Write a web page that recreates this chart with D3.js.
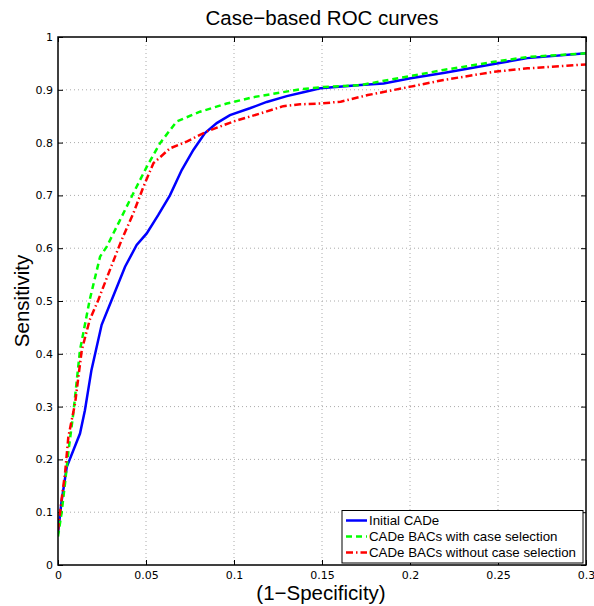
<!DOCTYPE html>
<html><head><meta charset="utf-8">
<script src="https://cdn.jsdelivr.net/npm/d3@7"></script>
<style>body{margin:0;background:#fff;font-family:"Liberation Sans",Arial,sans-serif}</style>
</head><body><svg id="c" width="594" height="606"></svg>
<script>
const xTicks=[0,0.05,0.1,0.15,0.2,0.25,0.3];
const yTicks=[0,0.1,0.2,0.3,0.4,0.5,0.6,0.7,0.8,0.9,1];
const seriesNames=["Initial CADe","CADe BACs with case selection","CADe BACs without case selection"];
const initialX=[0,0.002,0.005,0.0125,0.0153,0.019,0.0248,0.0305,0.0381,0.0447,0.0504,0.057,0.0636,0.0703,0.0769,0.0835,0.0902,0.0977,0.109,0.1186,0.13,0.14,0.149,0.172,0.185,0.2004,0.219,0.2477,0.2667,0.3];
const initialY=[0.06,0.12,0.186,0.249,0.293,0.369,0.455,0.502,0.565,0.606,0.628,0.663,0.70,0.748,0.786,0.818,0.837,0.852,0.865,0.877,0.888,0.896,0.903,0.909,0.912,0.922,0.932,0.949,0.960,0.969];
const withX=[0,0.002,0.004,0.0059,0.0087,0.0125,0.018,0.0239,0.0277,0.0343,0.0428,0.0504,0.058,0.0674,0.0807,0.0959,0.111,0.1375,0.15,0.172,0.2,0.219,0.2477,0.2667,0.3];
const withY=[0.054,0.098,0.155,0.215,0.287,0.407,0.502,0.584,0.603,0.647,0.704,0.754,0.799,0.840,0.8585,0.874,0.886,0.901,0.905,0.909,0.926,0.9375,0.953,0.962,0.969];
const withoutX=[0,0.002,0.004,0.0059,0.0097,0.0135,0.018,0.0229,0.0295,0.0362,0.0428,0.0485,0.0542,0.0636,0.0731,0.0845,0.0997,0.1148,0.128,0.1375,0.149,0.1606,0.176,0.2004,0.219,0.2477,0.2667,0.3];
const withoutY=[0.066,0.123,0.174,0.243,0.306,0.407,0.464,0.502,0.559,0.616,0.666,0.716,0.761,0.789,0.802,0.821,0.840,0.855,0.869,0.8725,0.874,0.8775,0.890,0.906,0.9186,0.934,0.9406,0.948];

const L=58,R=586,T=37,B=565;
const svg=d3.select("#c");
const x=d3.scaleLinear().domain([0,0.3]).range([L,R]);
const y=d3.scaleLinear().domain([0,1]).range([B,T]);

// grid
const g=svg.append("g");
g.selectAll(".vg").data(xTicks.slice(1,-1)).enter().append("line")
 .attr("x1",d=>x(d)).attr("x2",d=>x(d)).attr("y1",T).attr("y2",B)
 .attr("stroke","#aaa").attr("stroke-width",1).attr("stroke-dasharray","1,3");
g.selectAll(".hg").data(yTicks.slice(1,-1)).enter().append("line")
 .attr("y1",d=>y(d)).attr("y2",d=>y(d)).attr("x1",L).attr("x2",R)
 .attr("stroke","#aaa").attr("stroke-width",1).attr("stroke-dasharray","1,3");

// axes
const ax=svg.append("g").attr("transform",`translate(0,${B})`)
 .call(d3.axisBottom(x).tickValues(xTicks).tickFormat(d=>String(d)).tickSizeInner(-5).tickSizeOuter(0).tickPadding(6));
const ay=svg.append("g").attr("transform",`translate(${L},0)`)
 .call(d3.axisLeft(y).tickValues(yTicks).tickFormat(d=>String(d)).tickSizeInner(-5).tickSizeOuter(0).tickPadding(5));
const at=svg.append("g").attr("transform",`translate(0,${T})`)
 .call(d3.axisTop(x).tickValues(xTicks).tickFormat("").tickSizeInner(-5).tickSizeOuter(0));
const ar=svg.append("g").attr("transform",`translate(${R},0)`)
 .call(d3.axisRight(y).tickValues(yTicks).tickFormat("").tickSizeInner(-5).tickSizeOuter(0));
[ax,ay,at,ar].forEach(a=>{a.select(".domain").remove();a.selectAll("line").attr("stroke","#000");
 a.selectAll("text").attr("font-family","'DejaVu Sans',sans-serif").attr("font-size",11).attr("fill","#000");});

// curves
const line=d3.line().x(d=>x(d[0])).y(d=>y(d[1]));
svg.append("clipPath").attr("id","cp").append("rect").attr("x",L).attr("y",T).attr("width",R-L).attr("height",B-T);
const curves=[
 {xs:initialX,ys:initialY,color:"#0000ff",dash:null},
 {xs:withX,ys:withY,color:"#00ff00",dash:"6,4"},
 {xs:withoutX,ys:withoutY,color:"#ff0000",dash:"7,3,1.5,3"}
];
const cg=svg.append("g").attr("clip-path","url(#cp)");
curves.forEach(c=>{
 cg.append("path").datum(c.xs.map((v,i)=>[v,c.ys[i]])).attr("d",line)
  .attr("fill","none").attr("stroke",c.color).attr("stroke-width",2.5)
  .attr("stroke-dasharray",c.dash);
});

// box
svg.append("rect").attr("x",L).attr("y",T).attr("width",R-L).attr("height",B-T)
 .attr("fill","none").attr("stroke","#000").attr("stroke-width",1.5);

// titles
svg.append("text").attr("x",(L+R)/2).attr("y",25).attr("text-anchor","middle")
 .attr("font-size",20.5).text("Case\u2212based ROC curves");
svg.append("text").attr("x",(L+R)/2-1).attr("y",599.5).attr("text-anchor","middle")
 .attr("font-size",20.5).text("(1\u2212Specificity)");
svg.append("text").attr("transform",`translate(29,${(T+B)/2}) rotate(-90)`).attr("text-anchor","middle")
 .attr("font-size",20.5).text("Sensitivity");

// legend
const lg=svg.append("g");
lg.append("rect").attr("x",342).attr("y",510.5).attr("width",241).attr("height",52.5)
 .attr("fill","#fff").attr("stroke","#000").attr("stroke-width",1);
curves.forEach((c,i)=>{
 const yy=520.5+i*16;
 lg.append("line").attr("x1",346).attr("x2",367).attr("y1",yy).attr("y2",yy)
  .attr("stroke",c.color).attr("stroke-width",2.5).attr("stroke-dasharray",c.dash);
 lg.append("text").attr("x",369).attr("y",yy+4.5).attr("font-size",13.3).text(seriesNames[i]);
});
</script></body></html>
